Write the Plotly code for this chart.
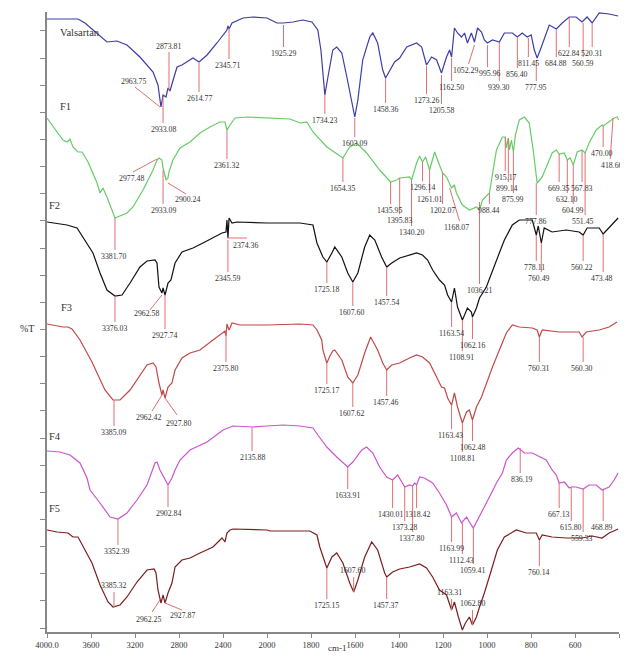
import plotly.graph_objects as go

# ---------------- data (wavenumber cm-1, offset %T units) ----------------
valsartan_wn = [4000, 3718, 3655, 3564, 3455, 3364, 3273, 3155, 3036, 2991, 2964, 2945, 2918, 2900, 2882, 2864,
                2818, 2773, 2727, 2673, 2618, 2545, 2455, 2364, 2355, 2345, 2318, 2218, 2127, 2000, 1955, 1927,
                1882, 1837, 1796, 1769, 1755, 1746, 1737, 1723, 1701, 1683, 1660, 1637, 1610, 1601, 1587, 1565,
                1533, 1519, 1497, 1474, 1461, 1442, 1420, 1397, 1365, 1320, 1297, 1275, 1252, 1229, 1207, 1184,
                1170, 1161, 1148, 1134, 1116, 1102, 1089, 1071, 1057, 1043, 1025, 1012, 998, 975, 944, 921, 885,
                862, 840, 817, 799, 785, 772, 753, 731, 717, 685, 658, 626, 595, 568, 545, 522, 490, 445, 404]
valsartan_t = [613, 613, 609, 600, 590, 591, 587, 575, 560, 547, 525, 537, 535, 544, 541, 548,
               565, 567, 570, 574, 570, 577, 589, 602, 606, 603, 609, 614, 615, 614, 609, 609,
               610, 612, 610, 602, 582, 555, 537, 555, 582, 585, 579, 555, 525, 515, 532, 572,
               595, 599, 589, 562, 554, 562, 570, 574, 585, 589, 585, 567, 575, 572, 559, 575,
               582, 575, 604, 599, 595, 599, 589, 599, 590, 604, 600, 592, 589, 592, 590, 599, 599,
               595, 599, 595, 597, 582, 574, 585, 599, 607, 603, 609, 615, 615, 610, 615, 609, 619, 618, 616]

f1_wn = [4000, 3909, 3855, 3818, 3791, 3764, 3718, 3682, 3627, 3545, 3518, 3491, 3455, 3382, 3336, 3273,
         3218, 3127, 3036, 3000, 2982, 2955, 2945, 2918, 2900, 2891, 2855, 2791, 2700, 2609, 2518, 2427,
         2382, 2364, 2336, 2291, 2182, 2000, 1896, 1850, 1819, 1791, 1728, 1655, 1624, 1592, 1547, 1488,
         1438, 1411, 1397, 1352, 1343, 1320, 1306, 1293, 1279, 1261, 1238, 1216, 1202, 1184, 1161, 1148,
         1139, 1112, 1080, 1048, 1034, 1021, 989, 957, 930, 917, 912, 903, 898, 889, 880, 871, 853, 830,
         808, 790, 776, 772, 749, 704, 685, 672, 649, 635, 622, 608, 590, 568, 554, 536, 504, 477, 472,
         445, 422, 409, 400]
f1_t = [514, 500, 492, 490, 493, 485, 480, 480, 470, 449, 439, 444, 435, 414, 416, 419,
        425, 442, 462, 472, 474, 472, 464, 452, 454, 460, 472, 484, 490, 499, 505, 510,
        510, 502, 507, 514, 515, 514, 513, 509, 510, 500, 485, 474, 485, 489, 479, 462,
        450, 452, 454, 455, 452, 469, 476, 470, 475, 462, 480, 467, 459, 455, 444, 447,
        439, 427, 422, 425, 422, 432, 439, 482, 495, 495, 484, 494, 482, 492, 480, 497, 512, 515,
        509, 482, 455, 449, 455, 479, 482, 478, 479, 472, 474, 467, 480, 482, 479, 489, 502, 507, 506,
        510, 514, 515, 512]

f2_wn = [4000, 3818, 3727, 3673, 3582, 3518, 3455, 3382, 3318, 3245, 3155, 3091, 3018, 3000, 2982, 2955,
         2945, 2927, 2900, 2873, 2836, 2773, 2673, 2582, 2491, 2409, 2373, 2364, 2355, 2345, 2318, 2273,
         2000, 1850, 1791, 1773, 1746, 1728, 1705, 1692, 1660, 1633, 1610, 1587, 1556, 1533, 1510, 1479,
         1456, 1433, 1397, 1352, 1320, 1293, 1270, 1247, 1216, 1193, 1179, 1161, 1148, 1134, 1112, 1102,
         1089, 1071, 1066, 1048, 1034, 1003, 975, 944, 921, 898, 885, 853, 794, 776, 767, 753, 740, 704,
         640, 581, 563, 545, 490, 472, 445, 422, 404]
f2_t = [410, 407, 404, 395, 379, 359, 342, 336, 337, 349, 365, 371, 372, 369, 345, 339,
        344, 337, 349, 352, 369, 380, 384, 389, 394, 399, 400, 412, 394, 414, 409, 410,
        409, 409, 407, 389, 375, 370, 379, 385, 375, 359, 350, 359, 385, 397, 392, 375,
        365, 369, 374, 377, 379, 377, 372, 362, 352, 347, 337, 330, 344, 325, 312, 317,
        324, 320, 315, 324, 334, 345, 362, 379, 392, 402, 407, 412, 412, 397, 406, 389, 404, 400,
        402, 400, 397, 404, 404, 398, 404, 409, 414]

f3_wn = [4000, 3855, 3809, 3773, 3700, 3636, 3591, 3545, 3473, 3400, 3336, 3245, 3155, 3091, 3036, 3009,
         2982, 2955, 2945, 2927, 2900, 2864, 2836, 2773, 2700, 2609, 2491, 2409, 2382, 2373, 2364, 2345,
         2318, 2245, 2000, 1850, 1791, 1773, 1751, 1746, 1728, 1714, 1701, 1692, 1660, 1633, 1610, 1587,
         1556, 1529, 1497, 1474, 1456, 1433, 1397, 1352, 1320, 1293, 1261, 1229, 1207, 1193, 1179, 1161,
         1148, 1134, 1112, 1093, 1080, 1066, 1048, 1025, 1003, 975, 953, 930, 912, 885, 853, 794, 772,
         762, 749, 672, 581, 568, 549, 490, 445, 409]
f3_t = [308, 305, 305, 303, 292, 279, 270, 259, 242, 232, 232, 242, 257, 267, 269, 265,
        249, 237, 242, 234, 245, 249, 262, 274, 279, 282, 292, 299, 301, 296, 308, 302,
        309, 307, 307, 308, 307, 302, 292, 282, 269, 276, 281, 282, 272, 255, 249, 257,
        279, 295, 282, 269, 262, 267, 269, 274, 277, 275, 269, 255, 245, 244, 234, 227,
        239, 225, 209, 220, 222, 212, 225, 235, 249, 265, 277, 289, 299, 307, 305, 304, 302,
        295, 302, 300, 300, 295, 300, 302, 305, 310]

f4_wn = [4000, 3882, 3791, 3700, 3636, 3609, 3518, 3427, 3355, 3273, 3182, 3091, 3018, 3000, 2973, 2927,
         2900, 2864, 2836, 2791, 2700, 2545, 2400, 2309, 2127, 2000, 1927, 1850, 1791, 1769, 1728, 1683,
         1633, 1610, 1569, 1547, 1519, 1488, 1456, 1429, 1406, 1374, 1352, 1338, 1329, 1320, 1306, 1284,
         1247, 1216, 1184, 1161, 1139, 1116, 1093, 1080, 1062, 1043, 1021, 989, 957, 930, 912, 885, 858,
         830, 794, 731, 704, 685, 672, 649, 626, 617, 595, 563, 536, 504, 477, 445, 422, 404]
f4_t = [181, 180, 177, 169, 154, 142, 129, 115, 113, 119, 132, 147, 169, 170, 162, 152,
        147, 154, 162, 172, 182, 190, 202, 206, 205, 206, 207, 206, 204, 197, 185, 175,
        165, 170, 182, 185, 179, 165, 155, 152, 157, 145, 147, 146, 149, 147, 155, 154,
        149, 139, 127, 115, 119, 109, 115, 110, 104, 112, 122, 135, 149, 159, 172, 179, 184,
        179, 179, 172, 162, 157, 149, 150, 144, 145, 145, 143, 147, 147, 142, 145, 152, 159]

f5_wn = [4000, 3909, 3809, 3764, 3718, 3655, 3591, 3518, 3445, 3400, 3336, 3273, 3182, 3091, 3027, 3009,
         2991, 2964, 2945, 2927, 2900, 2864, 2836, 2773, 2700, 2609, 2491, 2409, 2382, 2364, 2336, 2309,
         2000, 1986, 1896, 1805, 1773, 1760, 1728, 1705, 1683, 1655, 1624, 1606, 1587, 1556, 1524, 1497,
         1465, 1456, 1429, 1397, 1352, 1306, 1275, 1247, 1216, 1184, 1161, 1148, 1130, 1112, 1098, 1080,
         1066, 1048, 1034, 1012, 980, 953, 921, 867, 821, 776, 762, 749, 704, 640, 568, 522, 477, 445, 404]
f5_t = [102, 100, 99, 95, 95, 82, 69, 47, 30, 25, 27, 35, 50, 62, 63, 59,
        42, 29, 37, 29, 39, 49, 65, 72, 74, 79, 85, 94, 90, 99, 102, 103,
        102, 101, 101, 101, 97, 85, 64, 75, 79, 69, 49, 40, 52, 75, 90, 82,
        59, 55, 60, 63, 65, 68, 64, 55, 42, 37, 22, 30, 15, 2, 9, 15,
        7, 15, 25, 39, 62, 82, 95, 102, 99, 99, 92, 97, 95, 94, 94, 96, 94, 99, 103]

series_names = ["Valsartan", "F1", "F2", "F3", "F4", "F5"]

x_tick_values = [4000, 3600, 3200, 2800, 2400, 2000, 1800, 1600, 1400, 1200, 1000, 800, 600, 400]
x_tick_labels = ["4000.0", "3600", "3200", "2800", "2400", "2000", "1800", "1600", "1400",
                 "1200", "1000", "800", "600", "400.0"]

# ---------------- annotation layout (label, text x, text y, leader line x0,y0,x1,y1) ----------------
peak_labels = [
    # Valsartan
    ("2963.75", 3218, 551, 3200, 545, 2973, 525),
    ("2873.81", 2900, 586, 2891, 580, 2891, 542),
    ("2933.08", 2945, 503, 2945, 535, 2945, 509),
    ("2614.77", 2618, 534, 2618, 569, 2618, 540),
    ("2345.71", 2355, 567, 2345, 604, 2345, 573),
    ("1925.29", 1927, 579, 1925, 607, 1925, 585),
    ("1734.23", 1737, 512, 1737, 537, 1737, 518),
    ("1603.09", 1601, 489, 1601, 514, 1601, 495),
    ("1458.36", 1461, 523, 1461, 554, 1461, 529),
    ("1273.26", 1275, 532, 1275, 566, 1275, 538),
    ("1205.58", 1207, 522, 1207, 557, 1207, 528),
    ("1162.50", 1161, 545, 1161, 574, 1161, 551),
    ("1052.29", 1100, 562, 1057, 587, 1084, 568),
    ("995.96", 987, 559, 998, 587, 998, 565),
    ("939.30", 944, 545, 944, 589, 944, 551),
    ("856.40", 862, 558, 862, 594, 862, 564),
    ("811.45", 812, 569, 812, 594, 812, 575),
    ("777.95", 776, 545, 776, 572, 776, 551),
    ("684.88", 685, 569, 685, 602, 685, 575),
    ("622.84", 626, 579, 626, 614, 626, 585),
    ("560.59", 563, 569, 563, 609, 563, 575),
    ("520.31", 522, 579, 522, 608, 522, 585),
    # F1
    ("2977.48", 3236, 454, 3218, 460, 3000, 473),
    ("2933.09", 2945, 422, 2945, 462, 2945, 428),
    ("2900.24", 2727, 433, 2900, 449, 2736, 438),
    ("2361.32", 2364, 467, 2364, 502, 2364, 473),
    ("3381.70", 3391, 376, 3382, 414, 3382, 382),
    ("1654.35", 1655, 444, 1655, 474, 1655, 450),
    ("1435.95", 1442, 422, 1438, 450, 1438, 428),
    ("1395.83", 1397, 412, 1397, 454, 1397, 418),
    ("1340.20", 1343, 400, 1343, 452, 1343, 406),
    ("1296.14", 1293, 445, 1293, 470, 1293, 451),
    ("1261.01", 1261, 433, 1261, 462, 1261, 439),
    ("1202.07", 1202, 422, 1202, 459, 1202, 428),
    ("1168.07", 1139, 405, 1170, 444, 1125, 411),
    ("988.44", 989, 422, 989, 439, 989, 428),
    ("915.17", 912, 455, 917, 495, 917, 461),
    ("899.14", 908, 444, 903, 494, 903, 450),
    ("875.99", 880, 433, 880, 480, 880, 439),
    ("777.86", 776, 411, 776, 449, 776, 417),
    ("669.35", 672, 444, 672, 478, 672, 450),
    ("632.10", 635, 433, 635, 472, 635, 439),
    ("604.99", 608, 422, 608, 467, 608, 428),
    ("567.83", 568, 444, 568, 482, 568, 450),
    ("551.45", 563, 411, 554, 479, 554, 417),
    ("470.00", 477, 479, 472, 506, 472, 485),
    ("418.66", 432, 467, 427, 514, 440, 473),
    # F2
    ("2374.36", 2200, 387, 2364, 394, 2182, 394),
    ("2345.59", 2355, 354, 2355, 392, 2355, 360),
    ("3376.03", 3382, 304, 3382, 336, 3382, 310),
    ("2962.58", 3091, 319, 3064, 322, 2955, 337),
    ("2927.74", 2936, 297, 2927, 337, 2927, 303),
    ("1725.18", 1728, 343, 1728, 370, 1728, 349),
    ("1607.60", 1615, 320, 1610, 350, 1610, 326),
    ("1457.54", 1456, 330, 1456, 365, 1456, 336),
    ("1163.54", 1161, 299, 1161, 330, 1161, 305),
    ("1062.16", 1066, 287, 1066, 315, 1066, 293),
    ("1108.91", 1116, 275, 1112, 312, 1112, 281),
    ("1036.21", 1034, 342, 1034, 430, 1034, 348),
    ("778.11", 785, 365, 776, 397, 776, 371),
    ("760.49", 762, 354, 753, 389, 753, 360),
    ("560.22", 568, 365, 563, 397, 563, 371),
    ("473.48", 477, 354, 472, 398, 472, 360),
    # F3
    ("2375.80", 2373, 264, 2373, 302, 2373, 270),
    ("3385.09", 3391, 200, 3391, 232, 3391, 206),
    ("2962.42", 3073, 215, 2955, 237, 3045, 221),
    ("2927.80", 2809, 209, 2927, 234, 2818, 217),
    ("1725.17", 1728, 242, 1728, 269, 1728, 248),
    ("1607.62", 1615, 219, 1610, 249, 1610, 225),
    ("1457.46", 1461, 230, 1456, 262, 1456, 236),
    ("1163.43", 1165, 197, 1161, 227, 1161, 203),
    ("1062.48", 1066, 185, 1066, 212, 1066, 191),
    ("1108.81", 1112, 174, 1112, 209, 1112, 180),
    ("760.31", 762, 264, 762, 295, 762, 270),
    ("560.30", 568, 264, 563, 295, 563, 270),
    # F4
    ("2135.88", 2136, 175, 2136, 205, 2136, 181),
    ("3352.39", 3364, 81, 3355, 113, 3355, 87),
    ("2902.84", 2900, 119, 2900, 147, 2900, 125),
    ("1633.91", 1633, 137, 1633, 165, 1633, 143),
    ("1430.01", 1440, 118, 1429, 152, 1429, 124),
    ("1318.42", 1318, 118, 1320, 147, 1320, 124),
    ("1373.28", 1374, 105, 1374, 145, 1374, 111),
    ("1337.80", 1343, 94, 1338, 146, 1338, 100),
    ("1163.99", 1161, 84, 1161, 115, 1161, 90),
    ("1112.43", 1116, 72, 1112, 109, 1112, 78),
    ("1059.41", 1066, 62, 1062, 104, 1062, 68),
    ("836.19", 840, 153, 849, 184, 849, 159),
    ("667.13", 672, 118, 672, 149, 672, 124),
    ("615.80", 617, 105, 617, 145, 617, 111),
    ("559.33", 568, 94, 563, 143, 563, 100),
    ("468.89", 477, 105, 472, 142, 472, 111),
    # F5
    ("3385.32", 3400, 47, 3391, 40, 3391, 25),
    ("2962.25", 3073, 13, 3045, 20, 2973, 32),
    ("2927.87", 2764, 17, 2927, 29, 2773, 22),
    ("1725.15", 1728, 27, 1728, 64, 1728, 33),
    ("1607.60", 1610, 62, 1606, 55, 1606, 40),
    ("1457.37", 1461, 27, 1456, 55, 1456, 33),
    ("1163.31", 1170, 40, 1161, 33, 1161, 22),
    ("1062.80", 1066, 29, 1066, 22, 1066, 7),
    ("760.14", 762, 60, 762, 92, 762, 66),
]

series_label_pos = [("Valsartan", 3900, 600), ("F1", 3900, 526), ("F2", 4000, 427),
                    ("F3", 3891, 325), ("F4", 4000, 196), ("F5", 4000, 124)]


def u(wn):
    """Scale-break axis: 2x expansion below 2000 cm-1."""
    return wn if wn <= 2000 else 2000 + (wn - 2000) / 2.0


SERIF = "Liberation Serif, Times New Roman, serif"
colors = ["#3D3DA5", "#66CC66", "#111111", "#C24848", "#CC55CC", "#7A1E1E"]
all_wn = [valsartan_wn, f1_wn, f2_wn, f3_wn, f4_wn, f5_wn]
all_t = [valsartan_t, f1_t, f2_t, f3_t, f4_t, f5_t]

fig = go.Figure()
for name, wn, t, c in zip(series_names, all_wn, all_t, colors):
    fig.add_trace(go.Scatter(x=[u(w) for w in wn], y=t, mode="lines", name=name,
                             line=dict(color=c, width=1.2), showlegend=False))

for txt, tx, ty, x0, y0, x1, y1 in peak_labels:
    fig.add_shape(type="line", xref="x", yref="y", x0=u(x0), y0=y0, x1=u(x1), y1=y1,
                  line=dict(color="#E07070", width=1))
    fig.add_annotation(x=u(tx), y=ty, text=txt, showarrow=False, xref="x", yref="y",
                       font=dict(family=SERIF, size=7.8, color="#333333"))

for txt, tx, ty in series_label_pos:
    fig.add_annotation(x=u(tx), y=ty, text=txt, showarrow=False, xref="x", yref="y",
                       xanchor="left", font=dict(family=SERIF, size=10.5, color="#333333"))

fig.add_annotation(x=-0.051, y=304, xref="paper", yref="y", text="%T", showarrow=False,
                   font=dict(family=SERIF, size=10, color="#333333"))
fig.add_annotation(x=0.507, y=-0.037, xref="paper", yref="paper", text="cm-1", showarrow=False,
                   font=dict(family=SERIF, size=9, color="#333333"))

# the page body has an 8px margin, so the figure is sized to fill the rest of the window
fig.update_layout(
    width=620, height=653,
    margin=dict(l=39, r=9, t=4, b=29),
    plot_bgcolor="white", paper_bgcolor="white",
    xaxis=dict(range=[u(4000), u(400)], tickmode="array",
               tickvals=[u(v) for v in x_tick_values], ticktext=x_tick_labels,
               ticks="outside", ticklen=4, tickcolor="#888888",
               showline=True, linecolor="#888888", linewidth=1.5,
               showgrid=False, zeroline=False,
               tickfont=dict(family=SERIF, size=8.5, color="#333333")),
    yaxis=dict(range=[0, 620], tick0=4, dtick=27.14, ticks="outside", ticklen=5,
               tickcolor="#888888", showticklabels=False,
               showline=True, linecolor="#888888", linewidth=1.5,
               showgrid=False, zeroline=False),
)

fig.write_html("out.html")
